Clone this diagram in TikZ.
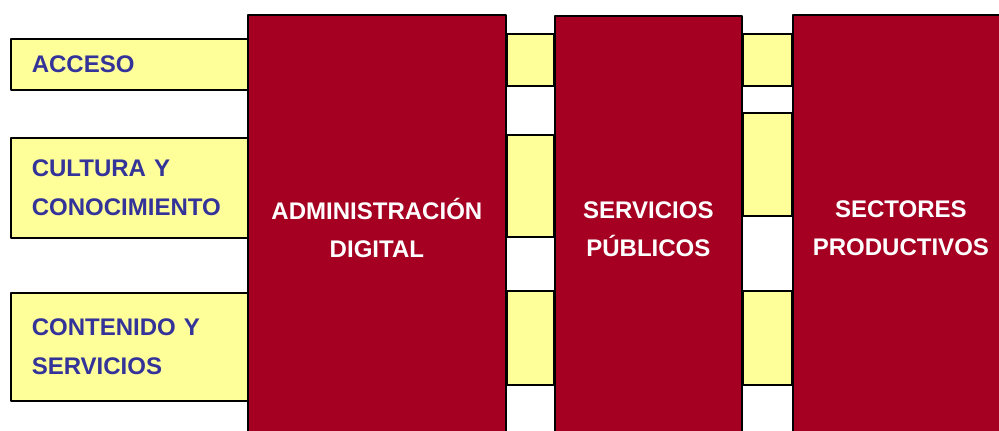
\documentclass[tikz,border=0pt]{standalone}
\usepackage{fontspec}
\setmainfont{Liberation Sans}
\definecolor{vino}{HTML}{A50021}
\definecolor{crema}{HTML}{FFFF99}
\definecolor{azul}{HTML}{333399}

\begin{document}
\begin{tikzpicture}[x=0.03cm,y=-0.03cm,line join=round,
  font=\bfseries\fontsize{20.5}{32.5}\selectfont,
  franja/.style={draw,line width=1.3pt,fill=crema,anchor=north west,inner ysep=0pt,
    inner xsep=0.63cm,text width=5.85cm,align=left,text=azul,minimum width=7.11cm},
  barra/.style={draw,line width=1.3pt,fill=crema},
  bloque/.style={draw,line width=1.5pt,fill=vino,anchor=north west,inner sep=0pt,
    text=white,align=center,minimum height=12.78cm}]

\useasboundingbox (0,0) rectangle (999,431);
\clip (0,0) rectangle (999,431);

% columna izquierda
\node[franja,minimum height=1.53cm] (acceso) at (10,38) {ACCESO};
\node[franja,minimum height=3.0cm] (cultura) at (10,137) {CULTURA Y\\CONOCIMIENTO};
\node[franja,minimum height=3.24cm] (contenido) at (10,292) {CONTENIDO Y\\SERVICIOS};

% bloques
\node[bloque,minimum width=7.74cm] (admin) at (247,14) {ADMINISTRACIÓN\\DIGITAL};
\node[bloque,minimum width=5.61cm] (servicios) at (554,15) {SERVICIOS\\PÚBLICOS};
\node[bloque,minimum width=6.48cm] (sectores) at (792,14) {SECTORES\\PRODUCTIVOS};

% barras entre bloques
\draw[barra] (admin.east |- 0,34) rectangle (servicios.west |- 0,86);
\draw[barra] (admin.east |- 0,135) rectangle (servicios.west |- 0,237);
\draw[barra] (admin.east |- 0,291) rectangle (servicios.west |- 0,385);
\draw[barra] (servicios.east |- 0,34) rectangle (sectores.west |- 0,86);
\draw[barra] (servicios.east |- 0,113) rectangle (sectores.west |- 0,216);
\draw[barra] (servicios.east |- 0,291) rectangle (sectores.west |- 0,385);

\end{tikzpicture}
\end{document}
